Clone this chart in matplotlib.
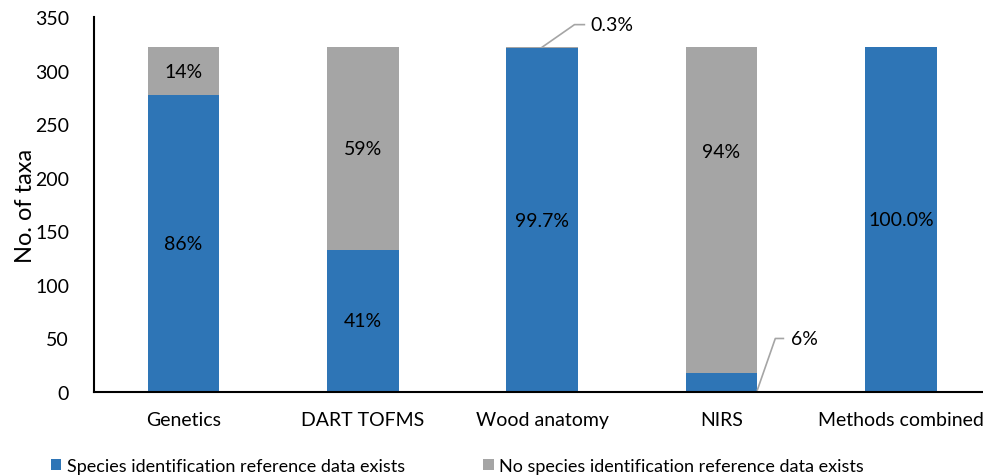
import matplotlib
matplotlib.use("Agg")
import matplotlib.pyplot as plt
import numpy as np

plt.rcParams['font.family'] = ['Lato', 'DejaVu Sans']

# data
methods = ['Genetics', 'DART TOFMS', 'Wood anatomy', 'NIRS', 'Methods combined']
total_taxa = 322
with_ref = [277, 133, 321, 18, 322]
without_ref = [total_taxa - v for v in with_ref]
pct_with = ['86%', '41%', '99.7%', '6%', '100.0%']
pct_without = ['14%', '59%', '0.3%', '94%', '']

blue = '#2E75B6'
grey = '#A5A5A5'

fig = plt.figure(figsize=(9.83, 4.77), dpi=100)
ax = fig.add_axes([0.0956, 0.176, 0.912, 0.786])

x = np.arange(len(methods))
w = 0.4
ax.bar(x, with_ref, w, color=blue, label='Species identification reference data exists')
ax.bar(x, without_ref, w, bottom=with_ref, color=grey,
       label='No species identification reference data exists')

fs = 14
# labels inside bars
for i in range(len(methods)):
    if i != 3:
        ax.text(x[i], with_ref[i] / 2, pct_with[i], ha='center', va='center', fontsize=fs)
    if pct_without[i] and i != 2:
        ymid = with_ref[i] + without_ref[i] / 2
        if i == 3:
            ymid = with_ref[i] + without_ref[i] * 0.68
        ax.text(x[i], ymid, pct_without[i], ha='center', va='center', fontsize=fs)

# leader-line labels for the thin segments
lc = '#A5A5A5'
ax.plot([x[2], x[2] + 0.18, x[2] + 0.235], [total_taxa, 343, 343], color=lc, lw=1.2, clip_on=False)
ax.text(x[2] + 0.27, 343, pct_without[2], ha='left', va='center', fontsize=fs)
ax.plot([x[3] + w / 2, x[3] + 0.3, x[3] + 0.345], [2, 50, 50], color=lc, lw=1.2)
ax.text(x[3] + 0.39, 50, pct_with[3], ha='left', va='center', fontsize=fs)

ax.set_xlim(-0.5, 4.5)
ax.set_ylim(0, 350)
ax.set_yticks(range(0, 351, 50))
ax.set_xticks(x)
ax.set_xticklabels(methods, fontsize=fs)
ax.tick_params(axis='both', length=0, labelsize=fs)
ax.tick_params(axis='x', pad=14)
ax.tick_params(axis='y', pad=18)
ax.set_ylabel('No. of taxa', fontsize=17, labelpad=-1)

for s in ['top', 'right']:
    ax.spines[s].set_visible(False)
ax.spines['left'].set_linewidth(1.5)
ax.spines['bottom'].set_linewidth(1.5)

fig.legend(loc='lower left', bbox_to_anchor=(0.035, -0.03), ncol=2, frameon=False,
           fontsize=13, handlelength=0.6, handleheight=0.6, handletextpad=0.3,
           columnspacing=4.3)

fig.savefig('out.png', dpi=100)
